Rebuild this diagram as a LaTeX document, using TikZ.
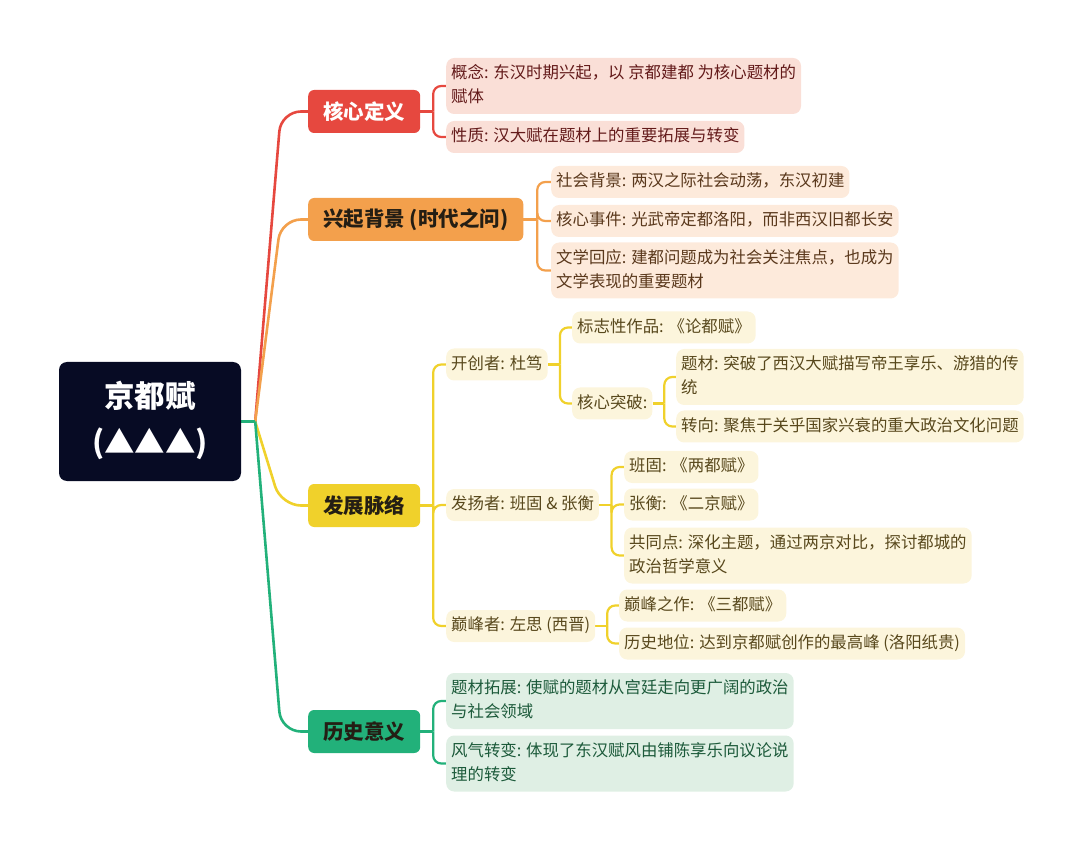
\documentclass[tikz,border=0pt]{standalone}
\usepackage{fontspec}
\setmainfont{Noto Sans CJK SC}
\usetikzlibrary{calc,backgrounds}
\definecolor{rootc}{HTML}{070B24}
\definecolor{redC}{HTML}{E6483F}
\definecolor{redL}{HTML}{FADFD7}
\definecolor{redT}{HTML}{631A1A}
\definecolor{oraC}{HTML}{F3A04C}
\definecolor{oraL}{HTML}{FDEADB}
\definecolor{oraT}{HTML}{5A381C}
\definecolor{yelC}{HTML}{F0D12B}
\definecolor{yelL}{HTML}{FCF5DC}
\definecolor{yelT}{HTML}{58481C}
\definecolor{grnC}{HTML}{22B17A}
\definecolor{grnL}{HTML}{DFEFE4}
\definecolor{grnT}{HTML}{1C5A3A}
\definecolor{darkT}{HTML}{241E14}
\begin{document}
\begin{tikzpicture}[x=1pt,y=-1pt,
  rootbox/.style={fill=rootc, rounded corners=8pt, minimum width=182pt, minimum height=119pt,
    text=white, font=\fontsize{30.5}{46}\selectfont\bfseries, align=center, inner sep=0pt},
  mainbox/.style={rounded corners=6pt, minimum height=43pt, inner xsep=15pt, inner ysep=0pt,
    font=\fontsize{20.5}{24}\selectfont\bfseries, anchor=west},
  leaf/.style={rounded corners=8pt, inner xsep=5pt, inner ysep=4pt,
    font=\fontsize{16.4}{24}\selectfont, anchor=west, align=left},
  leafR/.style={leaf, fill=redL, text=redT},
  leafO/.style={leaf, fill=oraL, text=oraT},
  leafY/.style={leaf, fill=yelL, text=yelT},
  leafG/.style={leaf, fill=grnL, text=grnT},
  mconn/.style={line width=2.6pt, rounded corners=20pt},
  conn/.style={line width=2.2pt, rounded corners=8pt}]
\useasboundingbox (0,0) rectangle (1080,850);

% root
\node[rootbox] (root) at (150,421.5) {\strut 京都赋\\\strut (▲▲▲)};

% main branches
\node[mainbox, fill=redC, text=white] (m1) at (308,111.5) {核心定义};
\node[mainbox, fill=oraC, text=darkT] (m2) at (308,219.5) {兴起背景 (时代之问)};
\node[mainbox, fill=yelC, text=darkT] (m3) at (308,505.5) {发展脉络};
\node[mainbox, fill=grnC, text=darkT] (m4) at (308,731.5) {历史意义};

% branch 1
\node[leafR] (a1) at (446,86) {\strut 概念: 东汉时期兴起，以 京都建都 为核心题材的\\\strut 赋体};
\node[leafR] (a2) at (446,137) {\strut 性质: 汉大赋在题材上的重要拓展与转变};

% branch 2
\node[leafO] (b1) at (551,182) {\strut 社会背景: 两汉之际社会动荡，东汉初建};
\node[leafO] (b2) at (551,221) {\strut 核心事件: 光武帝定都洛阳，而非西汉旧都长安};
\node[leafO] (b3) at (551,270.5) {\strut 文学回应: 建都问题成为社会关注焦点，也成为\\\strut 文学表现的重要题材};

% branch 3
\node[leafY] (c1) at (446,364.5) {\strut 开创者: 杜笃};
\node[leafY] (c11) at (572,327.5) {\strut 标志性作品: 《论都赋》};
\node[leafY] (c12) at (572,403.5) {\strut 核心突破:};
\node[leafY] (c121) at (676,377) {\strut 题材: 突破了西汉大赋描写帝王享乐、游猎的传\\\strut 统};
\node[leafY] (c122) at (676,426.5) {\strut 转向: 聚焦于关乎国家兴衰的重大政治文化问题};
\node[leafY] (c2) at (446,505) {\strut 发扬者: 班固 \& 张衡};
\node[leafY] (c21) at (624,467) {\strut 班固: 《两都赋》};
\node[leafY] (c22) at (624,504.5) {\strut 张衡: 《二京赋》};
\node[leafY] (c23) at (624,555.5) {\strut 共同点: 深化主题，通过两京对比，探讨都城的\\\strut 政治哲学意义};
\node[leafY] (c3) at (446,626) {\strut 巅峰者: 左思 (西晋)};
\node[leafY] (c31) at (619,605.5) {\strut 巅峰之作: 《三都赋》};
\node[leafY] (c32) at (619,643.5) {\strut 历史地位: 达到京都赋创作的最高峰 (洛阳纸贵)};

% branch 4
\node[leafG] (d1) at (446,701) {\strut 题材拓展: 使赋的题材从宫廷走向更广阔的政治\\\strut 与社会领域};
\node[leafG] (d2) at (446,763.5) {\strut 风气转变: 体现了东汉赋风由铺陈享乐向议论说\\\strut 理的转变};

\begin{scope}[on background layer]
% root to main
\coordinate (hub) at ($(root.east)+(14,0)$);
\draw[mconn, redC] (hub) -- ($(m1.west)+(-27,0)$) -- (m1.west);
\draw[mconn, oraC] (hub) -- ($(m2.west)+(-27,0)$) -- (m2.west);
\draw[mconn, yelC] (hub) -- ($(m3.west)+(-27,0)$) -- (m3.west);
\draw[mconn, grnC] (hub) -- ($(m4.west)+(-27,0)$) -- (m4.west);
\draw[line width=2.6pt, grnC] (root.east) -- (hub);

% branch 1
\coordinate (j1) at ($(m1.east)!0.5!(a1.west|-m1.east)$);
\draw[conn, redC] (m1.east) -- (j1);
\draw[conn, redC] (j1) |- (a1.west);
\draw[conn, redC] (j1) |- (a2.west);

% branch 2
\coordinate (j2) at ($(m2.east)!0.5!(b1.west|-m2.east)$);
\draw[conn, oraC] (m2.east) -- (j2);
\draw[conn, oraC] (j2) |- (b1.west);
\draw[conn, oraC] (j2) |- (b2.west);
\draw[conn, oraC] (j2) |- (b3.west);

% branch 3
\coordinate (j3) at ($(m3.east)!0.5!(c1.west|-m3.east)$);
\draw[conn, yelC] (m3.east) -- (j3);
\draw[conn, yelC] (j3) |- (c1.west);
\draw[conn, yelC] (j3) |- (c2.west);
\draw[conn, yelC] (j3) |- (c3.west);

\coordinate (j31) at ($(c1.east)!0.5!(c11.west|-c1.east)$);
\draw[conn, yelC] (c1.east) -- (j31);
\draw[conn, yelC] (j31) |- (c11.west);
\draw[conn, yelC] (j31) |- (c12.west);

\coordinate (j312) at ($(c12.east)!0.5!(c121.west|-c12.east)$);
\draw[conn, yelC] (c12.east) -- (j312);
\draw[conn, yelC] (j312) |- (c121.west);
\draw[conn, yelC] (j312) |- (c122.west);

\coordinate (j32) at ($(c2.east)!0.5!(c21.west|-c2.east)$);
\draw[conn, yelC] (c2.east) -- (j32);
\draw[conn, yelC] (j32) |- (c21.west);
\draw[conn, yelC] (j32) |- (c22.west);
\draw[conn, yelC] (j32) |- (c23.west);

\coordinate (j33) at ($(c3.east)!0.5!(c31.west|-c3.east)$);
\draw[conn, yelC] (c3.east) -- (j33);
\draw[conn, yelC] (j33) |- (c31.west);
\draw[conn, yelC] (j33) |- (c32.west);

% branch 4
\coordinate (j4) at ($(m4.east)!0.5!(d1.west|-m4.east)$);
\draw[conn, grnC] (m4.east) -- (j4);
\draw[conn, grnC] (j4) |- (d1.west);
\draw[conn, grnC] (j4) |- (d2.west);
\end{scope}
\end{tikzpicture}
\end{document}
